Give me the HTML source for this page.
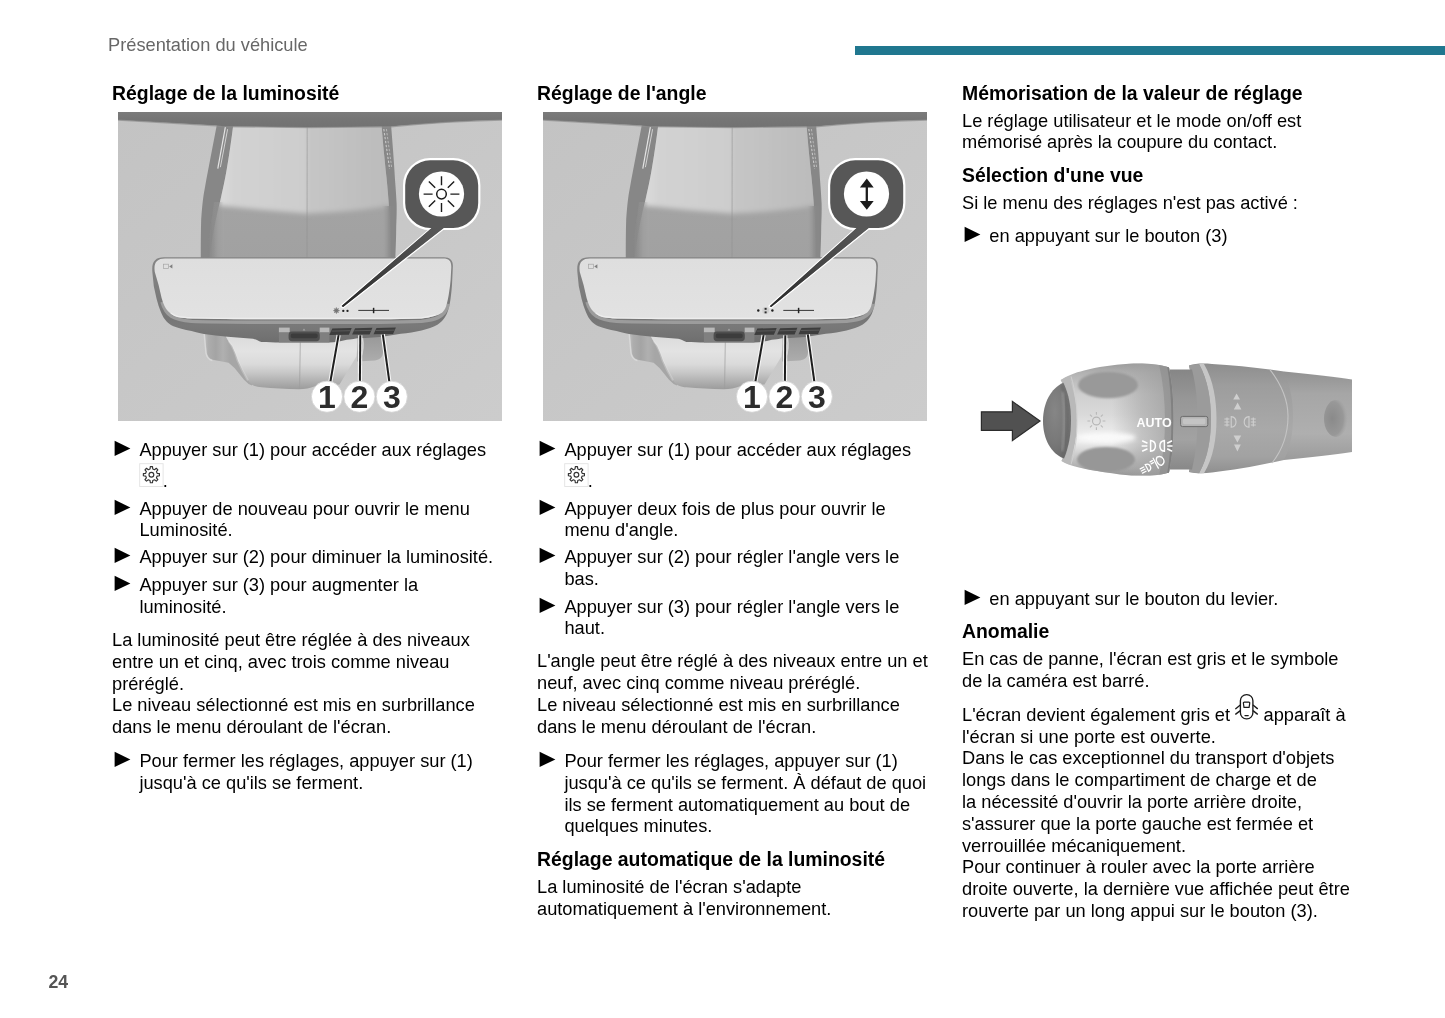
<!DOCTYPE html>
<html lang="fr"><head><meta charset="utf-8"><title>Présentation du véhicule</title>
<style>
html,body{margin:0;padding:0;background:#fff}
body{width:1445px;height:1018px;position:relative;overflow:hidden;font-family:"Liberation Sans",sans-serif;color:#000}
.l{position:absolute;white-space:nowrap;line-height:22px;font-size:18.24px}
.h{font-weight:bold;font-size:19.4px}
.hd{color:#676767}
.pn{font-weight:bold;color:#555;font-size:17.7px}
.ov{position:absolute;left:0;top:0}
.txt{position:absolute;left:0;top:0;width:1445px;height:1018px;opacity:0.999}
.bar{position:absolute;left:855px;top:45.5px;width:590px;height:9px;background:#20778f}
svg{display:block}
</style></head>
<body>
<div class="bar"></div>
<svg class="ov" style="left:118px;top:112.3px" width="384" height="309" viewBox="0 0 384 309">
<defs>
<linearGradient id="bga" x1="0" y1="0" x2="1" y2="1"><stop offset="0" stop-color="#c3c3c3"/><stop offset="1" stop-color="#cccccc"/></linearGradient>
<linearGradient id="upa" gradientUnits="userSpaceOnUse" x1="104" y1="0" x2="272" y2="0"><stop offset="0" stop-color="#dadada"/><stop offset="0.07" stop-color="#d2d2d2"/><stop offset="0.5" stop-color="#cdcdcd"/><stop offset="0.51" stop-color="#c6c6c6"/><stop offset="1" stop-color="#bbbbbb"/></linearGradient>
<linearGradient id="loa" x1="0" y1="0" x2="0" y2="1"><stop offset="0" stop-color="#a6a6a6"/><stop offset="1" stop-color="#a1a1a1"/></linearGradient>
<linearGradient id="lga" gradientUnits="userSpaceOnUse" x1="90" y1="0" x2="106" y2="0"><stop offset="0" stop-color="#878787" stop-opacity="1"/><stop offset="0.3" stop-color="#8c8c8c" stop-opacity="0.8"/><stop offset="1" stop-color="#a5a5a5" stop-opacity="0"/></linearGradient>
<linearGradient id="lsa" x1="0" y1="0" x2="1" y2="0"><stop offset="0" stop-color="#8f8f8f"/><stop offset="0.6" stop-color="#8a8a8a"/><stop offset="1" stop-color="#9c9c9c"/></linearGradient>
<linearGradient id="hsa" gradientUnits="userSpaceOnUse" x1="0" y1="145" x2="0" y2="231"><stop offset="0" stop-color="#858585"/><stop offset="0.72" stop-color="#767676"/><stop offset="0.8" stop-color="#797979"/><stop offset="1" stop-color="#6e6e6e"/></linearGradient>
<linearGradient id="fca" x1="0" y1="0" x2="0" y2="1"><stop offset="0" stop-color="#dedede"/><stop offset="1" stop-color="#e2e2e2"/></linearGradient>
<linearGradient id="lma" gradientUnits="userSpaceOnUse" x1="0" y1="226" x2="0" y2="278"><stop offset="0" stop-color="#dcdcdc"/><stop offset="0.25" stop-color="#e3e3e3"/><stop offset="0.5" stop-color="#dadada"/><stop offset="0.66" stop-color="#c8c8c8"/><stop offset="0.85" stop-color="#aeaeae"/><stop offset="1" stop-color="#9a9a9a"/></linearGradient>
<linearGradient id="pga" gradientUnits="userSpaceOnUse" x1="320" y1="117" x2="225" y2="195"><stop offset="0" stop-color="#575757"/><stop offset="0.45" stop-color="#474747"/><stop offset="1" stop-color="#262626"/></linearGradient>
<linearGradient id="wga" gradientUnits="userSpaceOnUse" x1="106" y1="0" x2="122" y2="0"><stop offset="0" stop-color="#dadada" stop-opacity="0.9"/><stop offset="1" stop-color="#d4d4d4" stop-opacity="0"/></linearGradient>
<linearGradient id="wla" gradientUnits="userSpaceOnUse" x1="87" y1="0" x2="127" y2="0"><stop offset="0" stop-color="#bcbcbc"/><stop offset="0.08" stop-color="#adadad"/><stop offset="0.27" stop-color="#a4a4a4"/><stop offset="0.45" stop-color="#b0b0b0"/><stop offset="0.62" stop-color="#a6a6a6"/><stop offset="1" stop-color="#a6a6a6"/></linearGradient>
<linearGradient id="wra" gradientUnits="userSpaceOnUse" x1="0" y1="222" x2="0" y2="250"><stop offset="0" stop-color="#979797"/><stop offset="0.5" stop-color="#a2a2a2"/><stop offset="1" stop-color="#adadad"/></linearGradient>
<linearGradient id="tba" gradientUnits="userSpaceOnUse" x1="0" y1="0" x2="0" y2="15"><stop offset="0" stop-color="#7b7b7b"/><stop offset="0.4" stop-color="#767676"/><stop offset="1" stop-color="#727272"/></linearGradient>
<clipPath id="sca"><path d="M99 12 L93.6 40 L88.3 67.7 C87.4 73 86.4 78.5 85.6 83 C84.6 90 83.8 98 83.2 107 C82.8 120 82.7 135 82.8 150 L277.2 150 C277.6 138 278.2 126 278.2 114.8 C278.6 106 278.8 98 278.6 91.3 C278.2 83 277.6 75 277 67.7 C276 49 274.4 30 273 12 Z"/></clipPath>
<clipPath id="bca"><path d="M115.4 12 C113.4 28 111.2 43 108.7 57.5 C107 68 104.6 78 102.4 88 C98 105 93.5 128 91 150 L273.4 150 C273.2 128 272.4 108 270.6 90 C269.8 78 268.8 68 267.6 57.5 C266 42 264.6 27 263.4 12 Z"/></clipPath>
<filter id="b3a" x="-10%" y="-10%" width="120%" height="120%"><feGaussianBlur stdDeviation="2.4"/></filter>
<linearGradient id="rga" gradientUnits="userSpaceOnUse" x1="273.5" y1="0" x2="264" y2="0"><stop offset="0" stop-color="#888" stop-opacity="1"/><stop offset="0.3" stop-color="#8c8c8c" stop-opacity="0.75"/><stop offset="1" stop-color="#a0a0a0" stop-opacity="0"/></linearGradient>
<clipPath id="cpa"><rect width="384" height="309"/></clipPath>
<filter id="bla" x="-10%" y="-10%" width="120%" height="120%"><feGaussianBlur stdDeviation="1.6"/></filter>
<filter id="b2a" x="-10%" y="-30%" width="120%" height="160%"><feGaussianBlur stdDeviation="0.7"/></filter>
</defs>
<g clip-path="url(#cpa)">
<rect width="384" height="309" fill="url(#bga)"/>
<path d="M99 12 L93.6 40 L88.3 67.7 C87.4 73 86.4 78.5 85.6 83 C84.6 90 83.8 98 83.2 107 C82.8 120 82.7 135 82.8 150 L277.2 150 C277.6 138 278.2 126 278.2 114.8 C278.6 106 278.8 98 278.6 91.3 C278.2 83 277.6 75 277 67.7 C276 49 274.4 30 273 12 Z" fill="#878787"/>
<g clip-path="url(#bca)">
<rect x="80" y="10" width="200" height="142" fill="url(#loa)"/>
<path d="M100 0 L100 93.5 C130 96.5 160 99.5 189 101.5 C215 100.5 245 98.5 272 93.5 L290 93.5 L290 0 Z" fill="url(#upa)" filter="url(#b3a)"/>
</g>
<g clip-path="url(#sca)">
<path d="M96 90 C93 110 90 130 88 152 L112 152 L112 90 Z" fill="url(#lga)" filter="url(#b2a)"/>
<path d="M262 94 L276 94 L276 152 L262 152 Z" fill="url(#rga)" filter="url(#b2a)"/>
</g>
<path d="M189.2 14 L189 150" stroke="#8f8f8f" stroke-width="0.7" fill="none" opacity="0.8"/>
<path d="M107.4 14.8 L99.8 56.7" stroke="#e4e4e4" stroke-width="1.2" fill="none"/>
<path d="M109.6 17.2 L102.4 55.2" stroke="#d2d2d2" stroke-width="1.0" fill="none"/>
<path d="M265.8 17 L271.6 57" stroke="#d4d4d4" stroke-width="1.1" stroke-dasharray="2.4 1.6" fill="none" opacity="0.85"/>
<path d="M268.4 17 L273.6 55" stroke="#c8c8c8" stroke-width="0.9" stroke-dasharray="2.4 1.6" fill="none" opacity="0.8"/>
<path d="M0 0 H384 V8 C350 8.8 310 11 273 14.6 L189 15.4 L104 14.4 L98 13.6 L0 7.9 Z" fill="url(#tba)"/>
<path d="M0 8.1 L98 13.8 L104 14.6 L189 15.6 L273 14.8 C310 11.2 350 9 384 8.2" fill="none" stroke="#909090" stroke-width="1.2" opacity="0.7" filter="url(#b2a)"/>
<path d="M87 216 L87 222.4 L88.8 240.7 C89.5 244.5 91.5 246.8 94.7 247.8 L110.6 250.7 L116.5 256 L126 267.7 L130.6 272 L134 273.6 L140 216 Z" fill="url(#wla)"/>
<path d="M86.2 222 L87.9 240.8 C88.6 245 90.8 247.6 94.4 248.7" fill="none" stroke="#dcdcdc" stroke-width="1.3" opacity="0.85" filter="url(#b2a)"/>
<path d="M240 218 L265 218 L265 240.5 C264.8 245 262 247.8 257 248.4 C251 248.9 245 249 239 249.4 Z" fill="url(#wra)"/>
<path d="M244.4 226 C245.8 232 245 240 242 247" fill="none" stroke="#d8d8d8" stroke-width="1.6" opacity="0.8" filter="url(#b2a)"/>
<path d="M106 216 L108.3 225.4 C110 229 112.4 231.6 114.2 234.2 C116.6 239 118.4 244 120.1 249 C123 255.5 126.2 261.6 129.5 267.7 C131.2 270.4 133 272.2 135.4 273.4 C138 274.5 140.6 275 143.4 275.3 C155 276.3 168 277 180.8 277.2 C187 277.2 192 276 197 274.2 C206 273.6 214 273 221.5 272.4 L238.4 244.4 C239.4 238 239.4 232 239.2 226 L239 218 Z" fill="url(#lma)"/>
<path d="M110.6 229 C114.6 234 117 240 119.4 248 C122.6 255.6 126 262 130 268.4" fill="none" stroke="#ebebeb" stroke-width="2" opacity="0.3" filter="url(#b2a)"/>
<path d="M182.3 229 L181.6 277" stroke="#9c9c9c" stroke-width="0.7" fill="none"/>
<path d="M46 145.3 L326 145.3 C332 145.3 335 148.4 334.9 154 L334 172.7 C333.6 178 333.2 182 332.6 186.5 C332 190.5 331.4 194 330.5 196.9 C329.5 200.5 328.2 203.4 326.4 205.9 C324.5 208.6 322.2 210.8 319.4 212.8 C315 215.4 309.5 217 303.5 218.4 C297 219.8 290 220.9 282.8 221.8 L268.9 223.9 C260 225.3 250 226 239.2 226.3 C236 227 232 227.6 228.8 227.8 C223 229.4 217 230.3 211 230.5 L168.4 230.5 C160 230.6 151 230.5 143.4 230.1 C140 228.6 138 227.4 135.1 226.8 C118 225.6 101 224.2 86 222 C81 221.2 77 220.2 73.5 219.1 C66 217.6 60 216 55.5 214.2 C52.5 212.8 50.3 211.2 48.6 209.4 C46 206.6 44.4 203.6 43.1 200.4 C41.2 196 39.8 191.4 38.5 186.5 L35.8 174.2 L34.4 160.4 C33.4 150 37 145.3 46 145.3 Z" fill="url(#hsa)"/>
<path d="M44 190 C46 197 49 201.5 53.5 204.4 C58 207.2 64 208.6 73.5 209.4 C90 210 110 210.1 132 210.2 L262 210.2 C280 210.1 292 209.9 303.5 209.4 C311 208.4 316 207.4 320 205.6 C325.5 203 328.6 199 330.6 192" fill="none" stroke="#a6a6a6" stroke-width="3.4" opacity="0.8" filter="url(#b2a)"/>
<path d="M47 146.4 L325 146.4 C331 146.4 333.4 149 333.3 155 L332.6 168 C332.2 172 331.8 176 331.2 179.6 C330.4 185 329.6 189.5 328.4 193.5 C327.4 196.6 326.2 198.8 324.3 200.4 C322.4 202 320 203 317.4 203.8 C313 205 308.5 206 303.5 206.6 C290 207.1 275 207.3 262 207.3 L132 207.3 C120 207.2 110 207.1 101.2 207 C91 206.9 82 206.8 73.5 206.6 C68 206.3 63.5 205.9 59.7 205.2 C57 204.5 54.8 203.4 52.8 201.8 C50 199.6 48 197 46.5 194 C45.4 191.5 44.4 189 43.6 186 L40.6 173 L36.8 160 C35.4 151 38.5 146.4 47 146.4 Z" fill="url(#fca)"/>
<path d="M52.8 201 C54.8 202.6 57 203.7 59.7 204.4 C63.5 205.1 68 205.5 73.5 205.8 C91 206.2 110 206.4 132 206.5 L262 206.5 C275 206.5 290 206.3 303.5 205.8 C308.5 205.2 313 204.2 317.4 203" fill="none" stroke="#efefef" stroke-width="1.3" opacity="0.9" filter="url(#b2a)"/>
<rect x="45.6" y="152.2" width="5" height="4.3" fill="none" stroke="#a4a4a4" stroke-width="0.7"/>
<path d="M51.2 154.4 L54.4 152.2 V156.6 Z" fill="#808080"/>
<rect x="160.9" y="215.6" width="10.8" height="5" fill="#b9b9b9"/>
<rect x="201.7" y="215.6" width="9.7" height="5" fill="#b9b9b9"/>
<rect x="160.9" y="220.4" width="50.5" height="10" fill="#808080"/>
<rect x="170.6" y="219.6" width="31.2" height="9.6" rx="3.4" fill="#4e4e4e"/>
<rect x="172.6" y="221.6" width="27.2" height="4.6" rx="2.3" fill="#3c3c3c"/>
<path d="M184.6 218.6 L186 216.6 L187.4 218.6 Z" fill="#a4a4a4"/>
<path d="M214.3 216.5 L233.7 216.1 L230.9 222.7 L211.3 222.9 Z" fill="#3d3d3d"/>
<path d="M213.5 219.1 L232.5 218.7" stroke="#5e5e5e" stroke-width="0.9"/>
<path d="M237.1 216.2 L254.39999999999998 215.79999999999998 L251.6 222.39999999999998 L234.1 222.6 Z" fill="#3d3d3d"/>
<path d="M236.29999999999998 218.79999999999998 L253.2 218.39999999999998" stroke="#5e5e5e" stroke-width="0.9"/>
<path d="M258.5 215.9 L277.9 215.5 L275.09999999999997 222.1 L255.50000000000003 222.3 Z" fill="#3d3d3d"/>
<path d="M257.70000000000005 218.5 L276.7 218.1" stroke="#5e5e5e" stroke-width="0.9"/>
<circle cx="218.4" cy="198.6" r="2.4" fill="#8a8a8a"/>
<g stroke="#6f6f6f" stroke-width="0.6"><path d="M215 198.6H221.8M218.4 195.2V202M216 196.2L220.8 201M216 201L220.8 196.2"/></g>
<circle cx="225.3" cy="198.9" r="1.15" fill="#222"/><circle cx="229.5" cy="198.9" r="1.15" fill="#222"/>
<path d="M240.3 198.4 H271" stroke="#222" stroke-width="0.9"/><path d="M255.6 195.8 V201.2" stroke="#222" stroke-width="1.5"/>
<path d="M220.6 223.2 L212.3 270" stroke="#f6f6f6" stroke-width="4.2" fill="none"/>
<path d="M220.6 223.2 L212.3 270" stroke="#1e1e1e" stroke-width="2.0" fill="none"/>
<path d="M242.3 223.2 L241.9 270" stroke="#f6f6f6" stroke-width="4.2" fill="none"/>
<path d="M242.3 223.2 L241.9 270" stroke="#1e1e1e" stroke-width="2.0" fill="none"/>
<path d="M264.8 222.4 L271.4 270" stroke="#f6f6f6" stroke-width="4.2" fill="none"/>
<path d="M264.8 222.4 L271.4 270" stroke="#1e1e1e" stroke-width="2.0" fill="none"/>
<circle cx="209.0" cy="284.7" r="15.6" fill="#fff" stroke="#d0d0d0" stroke-width="0.8"/>
<text x="209.0" y="296.0" text-anchor="middle" font-family="Liberation Sans, sans-serif" font-weight="bold" font-size="32" fill="#2b2b2b" opacity="0.99">1</text>
<circle cx="241.4" cy="284.7" r="15.6" fill="#fff" stroke="#d0d0d0" stroke-width="0.8"/>
<text x="241.4" y="296.0" text-anchor="middle" font-family="Liberation Sans, sans-serif" font-weight="bold" font-size="32" fill="#2b2b2b" opacity="0.99">2</text>
<circle cx="273.8" cy="284.7" r="15.6" fill="#fff" stroke="#d0d0d0" stroke-width="0.8"/>
<text x="273.8" y="296.0" text-anchor="middle" font-family="Liberation Sans, sans-serif" font-weight="bold" font-size="32" fill="#2b2b2b" opacity="0.99">3</text>
<path d="M312.2 48.3 H335.2 A25 25 0 0 1 360.2 73.3 V90.9 A25 25 0 0 1 335.2 115.9 H325.8 L225.10000000000002 195.0 L223.60000000000002 194.1 L314.1 115.9 H312.2 A25 25 0 0 1 287.2 90.9 V73.3 A25 25 0 0 1 312.2 48.3 Z" fill="#575757" stroke="#fff" stroke-width="2.6" stroke-linejoin="round"/>
<rect x="287.2" y="48.3" width="73.0" height="67.60000000000001" rx="25" ry="25" fill="#575757" stroke="#fff" stroke-width="4.4"/>
<path d="M312.2 48.3 H335.2 A25 25 0 0 1 360.2 73.3 V90.9 A25 25 0 0 1 335.2 115.9 H325.8 L225.10000000000002 195.0 L223.60000000000002 194.1 L314.1 115.9 H312.2 A25 25 0 0 1 287.2 90.9 V73.3 A25 25 0 0 1 312.2 48.3 Z" fill="#575757"/>
<path d="M325.8 115.4 L225.10000000000002 195.0 L223.60000000000002 194.1 L314.1 115.4 Z" fill="url(#pga)"/>
<circle cx="323.5" cy="82.0" r="22.6" fill="#fff"/>
<circle cx="323.5" cy="82.1" r="4.8" fill="none" stroke="#1c1c1c" stroke-width="1.5"/>
<path d="M332.40 82.10L341.40 82.10M329.79 88.39L336.16 94.76M323.50 91.00L323.50 100.00M317.21 88.39L310.84 94.76M314.60 82.10L305.60 82.10M317.21 75.81L310.84 69.44M323.50 73.20L323.50 64.20M329.79 75.81L336.16 69.44" stroke="#1c1c1c" stroke-width="1.4" fill="none"/>
</g></svg>
<svg class="ov" style="left:543px;top:112.3px" width="384" height="309" viewBox="0 0 384 309">
<defs>
<linearGradient id="bgb" x1="0" y1="0" x2="1" y2="1"><stop offset="0" stop-color="#c3c3c3"/><stop offset="1" stop-color="#cccccc"/></linearGradient>
<linearGradient id="upb" gradientUnits="userSpaceOnUse" x1="104" y1="0" x2="272" y2="0"><stop offset="0" stop-color="#dadada"/><stop offset="0.07" stop-color="#d2d2d2"/><stop offset="0.5" stop-color="#cdcdcd"/><stop offset="0.51" stop-color="#c6c6c6"/><stop offset="1" stop-color="#bbbbbb"/></linearGradient>
<linearGradient id="lob" x1="0" y1="0" x2="0" y2="1"><stop offset="0" stop-color="#a6a6a6"/><stop offset="1" stop-color="#a1a1a1"/></linearGradient>
<linearGradient id="lgb" gradientUnits="userSpaceOnUse" x1="90" y1="0" x2="106" y2="0"><stop offset="0" stop-color="#878787" stop-opacity="1"/><stop offset="0.3" stop-color="#8c8c8c" stop-opacity="0.8"/><stop offset="1" stop-color="#a5a5a5" stop-opacity="0"/></linearGradient>
<linearGradient id="lsb" x1="0" y1="0" x2="1" y2="0"><stop offset="0" stop-color="#8f8f8f"/><stop offset="0.6" stop-color="#8a8a8a"/><stop offset="1" stop-color="#9c9c9c"/></linearGradient>
<linearGradient id="hsb" gradientUnits="userSpaceOnUse" x1="0" y1="145" x2="0" y2="231"><stop offset="0" stop-color="#858585"/><stop offset="0.72" stop-color="#767676"/><stop offset="0.8" stop-color="#797979"/><stop offset="1" stop-color="#6e6e6e"/></linearGradient>
<linearGradient id="fcb" x1="0" y1="0" x2="0" y2="1"><stop offset="0" stop-color="#dedede"/><stop offset="1" stop-color="#e2e2e2"/></linearGradient>
<linearGradient id="lmb" gradientUnits="userSpaceOnUse" x1="0" y1="226" x2="0" y2="278"><stop offset="0" stop-color="#dcdcdc"/><stop offset="0.25" stop-color="#e3e3e3"/><stop offset="0.5" stop-color="#dadada"/><stop offset="0.66" stop-color="#c8c8c8"/><stop offset="0.85" stop-color="#aeaeae"/><stop offset="1" stop-color="#9a9a9a"/></linearGradient>
<linearGradient id="pgb" gradientUnits="userSpaceOnUse" x1="320" y1="117" x2="225" y2="195"><stop offset="0" stop-color="#575757"/><stop offset="0.45" stop-color="#474747"/><stop offset="1" stop-color="#262626"/></linearGradient>
<linearGradient id="wgb" gradientUnits="userSpaceOnUse" x1="106" y1="0" x2="122" y2="0"><stop offset="0" stop-color="#dadada" stop-opacity="0.9"/><stop offset="1" stop-color="#d4d4d4" stop-opacity="0"/></linearGradient>
<linearGradient id="wlb" gradientUnits="userSpaceOnUse" x1="87" y1="0" x2="127" y2="0"><stop offset="0" stop-color="#bcbcbc"/><stop offset="0.08" stop-color="#adadad"/><stop offset="0.27" stop-color="#a4a4a4"/><stop offset="0.45" stop-color="#b0b0b0"/><stop offset="0.62" stop-color="#a6a6a6"/><stop offset="1" stop-color="#a6a6a6"/></linearGradient>
<linearGradient id="wrb" gradientUnits="userSpaceOnUse" x1="0" y1="222" x2="0" y2="250"><stop offset="0" stop-color="#979797"/><stop offset="0.5" stop-color="#a2a2a2"/><stop offset="1" stop-color="#adadad"/></linearGradient>
<linearGradient id="tbb" gradientUnits="userSpaceOnUse" x1="0" y1="0" x2="0" y2="15"><stop offset="0" stop-color="#7b7b7b"/><stop offset="0.4" stop-color="#767676"/><stop offset="1" stop-color="#727272"/></linearGradient>
<clipPath id="scb"><path d="M99 12 L93.6 40 L88.3 67.7 C87.4 73 86.4 78.5 85.6 83 C84.6 90 83.8 98 83.2 107 C82.8 120 82.7 135 82.8 150 L277.2 150 C277.6 138 278.2 126 278.2 114.8 C278.6 106 278.8 98 278.6 91.3 C278.2 83 277.6 75 277 67.7 C276 49 274.4 30 273 12 Z"/></clipPath>
<clipPath id="bcb"><path d="M115.4 12 C113.4 28 111.2 43 108.7 57.5 C107 68 104.6 78 102.4 88 C98 105 93.5 128 91 150 L273.4 150 C273.2 128 272.4 108 270.6 90 C269.8 78 268.8 68 267.6 57.5 C266 42 264.6 27 263.4 12 Z"/></clipPath>
<filter id="b3b" x="-10%" y="-10%" width="120%" height="120%"><feGaussianBlur stdDeviation="2.4"/></filter>
<linearGradient id="rgb" gradientUnits="userSpaceOnUse" x1="273.5" y1="0" x2="264" y2="0"><stop offset="0" stop-color="#888" stop-opacity="1"/><stop offset="0.3" stop-color="#8c8c8c" stop-opacity="0.75"/><stop offset="1" stop-color="#a0a0a0" stop-opacity="0"/></linearGradient>
<clipPath id="cpb"><rect width="384" height="309"/></clipPath>
<filter id="blb" x="-10%" y="-10%" width="120%" height="120%"><feGaussianBlur stdDeviation="1.6"/></filter>
<filter id="b2b" x="-10%" y="-30%" width="120%" height="160%"><feGaussianBlur stdDeviation="0.7"/></filter>
</defs>
<g clip-path="url(#cpb)">
<rect width="384" height="309" fill="url(#bgb)"/>
<path d="M99 12 L93.6 40 L88.3 67.7 C87.4 73 86.4 78.5 85.6 83 C84.6 90 83.8 98 83.2 107 C82.8 120 82.7 135 82.8 150 L277.2 150 C277.6 138 278.2 126 278.2 114.8 C278.6 106 278.8 98 278.6 91.3 C278.2 83 277.6 75 277 67.7 C276 49 274.4 30 273 12 Z" fill="#878787"/>
<g clip-path="url(#bcb)">
<rect x="80" y="10" width="200" height="142" fill="url(#lob)"/>
<path d="M100 0 L100 93.5 C130 96.5 160 99.5 189 101.5 C215 100.5 245 98.5 272 93.5 L290 93.5 L290 0 Z" fill="url(#upb)" filter="url(#b3b)"/>
</g>
<g clip-path="url(#scb)">
<path d="M96 90 C93 110 90 130 88 152 L112 152 L112 90 Z" fill="url(#lgb)" filter="url(#b2b)"/>
<path d="M262 94 L276 94 L276 152 L262 152 Z" fill="url(#rgb)" filter="url(#b2b)"/>
</g>
<path d="M189.2 14 L189 150" stroke="#8f8f8f" stroke-width="0.7" fill="none" opacity="0.8"/>
<path d="M107.4 14.8 L99.8 56.7" stroke="#e4e4e4" stroke-width="1.2" fill="none"/>
<path d="M109.6 17.2 L102.4 55.2" stroke="#d2d2d2" stroke-width="1.0" fill="none"/>
<path d="M265.8 17 L271.6 57" stroke="#d4d4d4" stroke-width="1.1" stroke-dasharray="2.4 1.6" fill="none" opacity="0.85"/>
<path d="M268.4 17 L273.6 55" stroke="#c8c8c8" stroke-width="0.9" stroke-dasharray="2.4 1.6" fill="none" opacity="0.8"/>
<path d="M0 0 H384 V8 C350 8.8 310 11 273 14.6 L189 15.4 L104 14.4 L98 13.6 L0 7.9 Z" fill="url(#tbb)"/>
<path d="M0 8.1 L98 13.8 L104 14.6 L189 15.6 L273 14.8 C310 11.2 350 9 384 8.2" fill="none" stroke="#909090" stroke-width="1.2" opacity="0.7" filter="url(#b2b)"/>
<path d="M87 216 L87 222.4 L88.8 240.7 C89.5 244.5 91.5 246.8 94.7 247.8 L110.6 250.7 L116.5 256 L126 267.7 L130.6 272 L134 273.6 L140 216 Z" fill="url(#wlb)"/>
<path d="M86.2 222 L87.9 240.8 C88.6 245 90.8 247.6 94.4 248.7" fill="none" stroke="#dcdcdc" stroke-width="1.3" opacity="0.85" filter="url(#b2b)"/>
<path d="M240 218 L265 218 L265 240.5 C264.8 245 262 247.8 257 248.4 C251 248.9 245 249 239 249.4 Z" fill="url(#wrb)"/>
<path d="M244.4 226 C245.8 232 245 240 242 247" fill="none" stroke="#d8d8d8" stroke-width="1.6" opacity="0.8" filter="url(#b2b)"/>
<path d="M106 216 L108.3 225.4 C110 229 112.4 231.6 114.2 234.2 C116.6 239 118.4 244 120.1 249 C123 255.5 126.2 261.6 129.5 267.7 C131.2 270.4 133 272.2 135.4 273.4 C138 274.5 140.6 275 143.4 275.3 C155 276.3 168 277 180.8 277.2 C187 277.2 192 276 197 274.2 C206 273.6 214 273 221.5 272.4 L238.4 244.4 C239.4 238 239.4 232 239.2 226 L239 218 Z" fill="url(#lmb)"/>
<path d="M110.6 229 C114.6 234 117 240 119.4 248 C122.6 255.6 126 262 130 268.4" fill="none" stroke="#ebebeb" stroke-width="2" opacity="0.3" filter="url(#b2b)"/>
<path d="M182.3 229 L181.6 277" stroke="#9c9c9c" stroke-width="0.7" fill="none"/>
<path d="M46 145.3 L326 145.3 C332 145.3 335 148.4 334.9 154 L334 172.7 C333.6 178 333.2 182 332.6 186.5 C332 190.5 331.4 194 330.5 196.9 C329.5 200.5 328.2 203.4 326.4 205.9 C324.5 208.6 322.2 210.8 319.4 212.8 C315 215.4 309.5 217 303.5 218.4 C297 219.8 290 220.9 282.8 221.8 L268.9 223.9 C260 225.3 250 226 239.2 226.3 C236 227 232 227.6 228.8 227.8 C223 229.4 217 230.3 211 230.5 L168.4 230.5 C160 230.6 151 230.5 143.4 230.1 C140 228.6 138 227.4 135.1 226.8 C118 225.6 101 224.2 86 222 C81 221.2 77 220.2 73.5 219.1 C66 217.6 60 216 55.5 214.2 C52.5 212.8 50.3 211.2 48.6 209.4 C46 206.6 44.4 203.6 43.1 200.4 C41.2 196 39.8 191.4 38.5 186.5 L35.8 174.2 L34.4 160.4 C33.4 150 37 145.3 46 145.3 Z" fill="url(#hsb)"/>
<path d="M44 190 C46 197 49 201.5 53.5 204.4 C58 207.2 64 208.6 73.5 209.4 C90 210 110 210.1 132 210.2 L262 210.2 C280 210.1 292 209.9 303.5 209.4 C311 208.4 316 207.4 320 205.6 C325.5 203 328.6 199 330.6 192" fill="none" stroke="#a6a6a6" stroke-width="3.4" opacity="0.8" filter="url(#b2b)"/>
<path d="M47 146.4 L325 146.4 C331 146.4 333.4 149 333.3 155 L332.6 168 C332.2 172 331.8 176 331.2 179.6 C330.4 185 329.6 189.5 328.4 193.5 C327.4 196.6 326.2 198.8 324.3 200.4 C322.4 202 320 203 317.4 203.8 C313 205 308.5 206 303.5 206.6 C290 207.1 275 207.3 262 207.3 L132 207.3 C120 207.2 110 207.1 101.2 207 C91 206.9 82 206.8 73.5 206.6 C68 206.3 63.5 205.9 59.7 205.2 C57 204.5 54.8 203.4 52.8 201.8 C50 199.6 48 197 46.5 194 C45.4 191.5 44.4 189 43.6 186 L40.6 173 L36.8 160 C35.4 151 38.5 146.4 47 146.4 Z" fill="url(#fcb)"/>
<path d="M52.8 201 C54.8 202.6 57 203.7 59.7 204.4 C63.5 205.1 68 205.5 73.5 205.8 C91 206.2 110 206.4 132 206.5 L262 206.5 C275 206.5 290 206.3 303.5 205.8 C308.5 205.2 313 204.2 317.4 203" fill="none" stroke="#efefef" stroke-width="1.3" opacity="0.9" filter="url(#b2b)"/>
<rect x="45.6" y="152.2" width="5" height="4.3" fill="none" stroke="#a4a4a4" stroke-width="0.7"/>
<path d="M51.2 154.4 L54.4 152.2 V156.6 Z" fill="#808080"/>
<rect x="160.9" y="215.6" width="10.8" height="5" fill="#b9b9b9"/>
<rect x="201.7" y="215.6" width="9.7" height="5" fill="#b9b9b9"/>
<rect x="160.9" y="220.4" width="50.5" height="10" fill="#808080"/>
<rect x="170.6" y="219.6" width="31.2" height="9.6" rx="3.4" fill="#4e4e4e"/>
<rect x="172.6" y="221.6" width="27.2" height="4.6" rx="2.3" fill="#3c3c3c"/>
<path d="M184.6 218.6 L186 216.6 L187.4 218.6 Z" fill="#a4a4a4"/>
<path d="M214.3 216.5 L233.7 216.1 L230.9 222.7 L211.3 222.9 Z" fill="#3d3d3d"/>
<path d="M213.5 219.1 L232.5 218.7" stroke="#5e5e5e" stroke-width="0.9"/>
<path d="M237.1 216.2 L254.39999999999998 215.79999999999998 L251.6 222.39999999999998 L234.1 222.6 Z" fill="#3d3d3d"/>
<path d="M236.29999999999998 218.79999999999998 L253.2 218.39999999999998" stroke="#5e5e5e" stroke-width="0.9"/>
<path d="M258.5 215.9 L277.9 215.5 L275.09999999999997 222.1 L255.50000000000003 222.3 Z" fill="#3d3d3d"/>
<path d="M257.70000000000005 218.5 L276.7 218.1" stroke="#5e5e5e" stroke-width="0.9"/>
<circle cx="215.3" cy="198.5" r="1.2" fill="#1e1e1e"/><circle cx="229.4" cy="198.5" r="1.2" fill="#1e1e1e"/>
<circle cx="222.6" cy="198.5" r="3.4" fill="#cfcfcf"/>
<rect x="221.6" y="195.9" width="2" height="1.9" fill="#2a2a2a"/><rect x="221.6" y="199.4" width="2" height="1.9" fill="#2a2a2a"/>
<path d="M240.3 198.4 H271" stroke="#222" stroke-width="0.9"/><path d="M255.6 195.8 V201.2" stroke="#222" stroke-width="1.5"/>
<path d="M220.6 223.2 L212.3 270" stroke="#f6f6f6" stroke-width="4.2" fill="none"/>
<path d="M220.6 223.2 L212.3 270" stroke="#1e1e1e" stroke-width="2.0" fill="none"/>
<path d="M242.3 223.2 L241.9 270" stroke="#f6f6f6" stroke-width="4.2" fill="none"/>
<path d="M242.3 223.2 L241.9 270" stroke="#1e1e1e" stroke-width="2.0" fill="none"/>
<path d="M264.8 222.4 L271.4 270" stroke="#f6f6f6" stroke-width="4.2" fill="none"/>
<path d="M264.8 222.4 L271.4 270" stroke="#1e1e1e" stroke-width="2.0" fill="none"/>
<circle cx="209.0" cy="284.7" r="15.6" fill="#fff" stroke="#d0d0d0" stroke-width="0.8"/>
<text x="209.0" y="296.0" text-anchor="middle" font-family="Liberation Sans, sans-serif" font-weight="bold" font-size="32" fill="#2b2b2b" opacity="0.99">1</text>
<circle cx="241.4" cy="284.7" r="15.6" fill="#fff" stroke="#d0d0d0" stroke-width="0.8"/>
<text x="241.4" y="296.0" text-anchor="middle" font-family="Liberation Sans, sans-serif" font-weight="bold" font-size="32" fill="#2b2b2b" opacity="0.99">2</text>
<circle cx="273.8" cy="284.7" r="15.6" fill="#fff" stroke="#d0d0d0" stroke-width="0.8"/>
<text x="273.8" y="296.0" text-anchor="middle" font-family="Liberation Sans, sans-serif" font-weight="bold" font-size="32" fill="#2b2b2b" opacity="0.99">3</text>
<path d="M312.2 48.3 H335.2 A25 25 0 0 1 360.2 73.3 V90.9 A25 25 0 0 1 335.2 115.9 H325.8 L228.20000000000002 195.1 L226.70000000000002 194.2 L314.1 115.9 H312.2 A25 25 0 0 1 287.2 90.9 V73.3 A25 25 0 0 1 312.2 48.3 Z" fill="#575757" stroke="#fff" stroke-width="2.6" stroke-linejoin="round"/>
<rect x="287.2" y="48.3" width="73.0" height="67.60000000000001" rx="25" ry="25" fill="#575757" stroke="#fff" stroke-width="4.4"/>
<path d="M312.2 48.3 H335.2 A25 25 0 0 1 360.2 73.3 V90.9 A25 25 0 0 1 335.2 115.9 H325.8 L228.20000000000002 195.1 L226.70000000000002 194.2 L314.1 115.9 H312.2 A25 25 0 0 1 287.2 90.9 V73.3 A25 25 0 0 1 312.2 48.3 Z" fill="#575757"/>
<path d="M325.8 115.4 L228.20000000000002 195.1 L226.70000000000002 194.2 L314.1 115.4 Z" fill="url(#pgb)"/>
<circle cx="323.5" cy="82.0" r="22.6" fill="#fff"/>
<path d="M323.8 71 V94" stroke="#1c1c1c" stroke-width="2.3"/>
<path d="M323.8 66.4 L330.7 75.5 H316.9 Z M323.8 97.8 L330.7 88.9 H316.9 Z" fill="#1c1c1c"/>
</g></svg>
<svg class="ov" style="left:970px;top:350px" width="400" height="140" viewBox="970 350 400 140">
<defs>
<linearGradient id="lvK" x1="0" y1="0" x2="0" y2="1"><stop offset="0" stop-color="#9c9c9c"/><stop offset="0.08" stop-color="#b2b2b2"/><stop offset="0.28" stop-color="#d0d0d0"/><stop offset="0.45" stop-color="#d9d9d9"/><stop offset="0.6" stop-color="#e9e9e9"/><stop offset="0.7" stop-color="#ededed"/><stop offset="0.8" stop-color="#d0d0d0"/><stop offset="0.92" stop-color="#b0b0b0"/><stop offset="1" stop-color="#949494"/></linearGradient>
<linearGradient id="lvKr" gradientUnits="userSpaceOnUse" x1="1112" y1="0" x2="1172" y2="0"><stop offset="0" stop-color="#a0a0a0" stop-opacity="0"/><stop offset="0.5" stop-color="#a2a2a2" stop-opacity="0.55"/><stop offset="1" stop-color="#9a9a9a" stop-opacity="0.8"/></linearGradient>
<linearGradient id="lvB" x1="0" y1="0" x2="0" y2="1"><stop offset="0" stop-color="#8e8e8e"/><stop offset="0.2" stop-color="#9d9d9d"/><stop offset="0.6" stop-color="#a9a9a9"/><stop offset="0.85" stop-color="#a2a2a2"/><stop offset="1" stop-color="#8f8f8f"/></linearGradient>
<linearGradient id="lvN" x1="0" y1="0" x2="0" y2="1"><stop offset="0" stop-color="#868686"/><stop offset="0.3" stop-color="#979797"/><stop offset="0.7" stop-color="#a2a2a2"/><stop offset="1" stop-color="#888"/></linearGradient>
<linearGradient id="lvS" x1="0" y1="0" x2="0" y2="1"><stop offset="0" stop-color="#929292"/><stop offset="0.25" stop-color="#a6a6a6"/><stop offset="0.7" stop-color="#afafaf"/><stop offset="1" stop-color="#9b9b9b"/></linearGradient>
<radialGradient id="lvD" cx="0.42" cy="0.38" r="0.7"><stop offset="0" stop-color="#868686"/><stop offset="0.6" stop-color="#787878"/><stop offset="1" stop-color="#686868"/></radialGradient>
<linearGradient id="lvKx" x1="0" y1="0" x2="1" y2="0"><stop offset="0" stop-color="#9a9a9a" stop-opacity="0.55"/><stop offset="0.3" stop-color="#9a9a9a" stop-opacity="0"/><stop offset="1" stop-color="#9a9a9a" stop-opacity="0"/></linearGradient>
<radialGradient id="lvP" cx="0.35" cy="0.5" r="0.65"><stop offset="0" stop-color="#8a8a8a"/><stop offset="0.7" stop-color="#989898"/><stop offset="1" stop-color="#a6a6a6" stop-opacity="0"/></radialGradient>
<filter id="lvF0" x="-50%" y="-10%" width="200%" height="120%"><feGaussianBlur stdDeviation="0.5"/></filter>
<filter id="lvF" x="-20%" y="-20%" width="140%" height="140%"><feGaussianBlur stdDeviation="1.2"/></filter>
<filter id="lvF2" x="-20%" y="-20%" width="140%" height="140%"><feGaussianBlur stdDeviation="2.2"/></filter>
<clipPath id="lvKc"><path d="M1060.6 380 C1066 376 1075 372.6 1084 370.4 C1098 367 1112 365 1129 363.8 C1145 363 1160 364.5 1169 367.6 C1172.5 385 1173.5 400 1173.5 420 C1173.5 440 1172.5 456 1169 472.4 C1158 476 1140 476.4 1120 474.4 C1098 471.6 1080 468.5 1070 465 C1066 463.6 1063.5 462.4 1061.4 461 C1067.5 448 1070.5 435 1070.5 420.5 C1070.5 406 1067.5 392 1060.6 380 Z"/></clipPath>
</defs>
<path d="M981.4 411.8 H1012.4 V401.4 L1040 421 L1012.4 440.6 V430.3 H981.4 Z" fill="#515151" stroke="#2c2c2c" stroke-width="1.2" stroke-linejoin="miter"/>
<path d="M1284 371.5 C1310 374 1335 377 1352 379.4 L1352 452 C1335 454.6 1310 457.6 1284 460 Z" fill="url(#lvS)"/>
<ellipse cx="1336" cy="418.5" rx="12" ry="18.5" fill="url(#lvP)"/>
<path d="M1189 365.4 C1196 363.2 1204 363.4 1212 364 C1235 365.4 1262 368 1284 371.5 C1291 388 1293 402 1293 416 C1293 432 1291 446 1284 460 C1262 465 1235 470 1212 472.6 C1204 473.4 1196 473.6 1189 472 C1193 455 1194.5 438 1194.5 419 C1194.5 400 1193 382 1189 365.4 Z" fill="url(#lvB)"/>
<path d="M1270 369.6 C1284 388 1288 402 1288 416 C1288 432 1284 448 1272 463" fill="none" stroke="#c4c4c4" stroke-width="1.1"/>
<path d="M1199 364 C1208 380 1211 400 1211 419 C1211 438 1208 458 1199 473.2 L1204 473.2 C1213.5 458 1216.5 438 1216.5 419 C1216.5 400 1213.5 380 1204 364 Z" fill="#c6c6c6"/>
<path d="M1189 365.4 C1193 382 1194.5 400 1194.5 419 C1194.5 438 1193 455 1189 472 L1199 473.2 C1208 458 1211 438 1211 419 C1211 400 1208 380 1199 364 Z" fill="#9b9b9b"/>
<path d="M1170 369.4 H1192 C1196 385 1197.5 402 1197.5 419 C1197.5 436 1196 453 1192 469.6 H1170 Z" fill="url(#lvN)"/>
<path d="M1060.6 380 C1066 376 1075 372.6 1084 370.4 C1098 367 1112 365 1129 363.8 C1145 363 1160 364.5 1169 367.6 C1172.5 385 1173.5 400 1173.5 420 C1173.5 440 1172.5 456 1169 472.4 C1158 476 1140 476.4 1120 474.4 C1098 471.6 1080 468.5 1070 465 C1066 463.6 1063.5 462.4 1061.4 461 C1067.5 448 1070.5 435 1070.5 420.5 C1070.5 406 1067.5 392 1060.6 380 Z" fill="url(#lvK)"/>
<g clip-path="url(#lvKc)">
<rect x="1110" y="360" width="66" height="120" fill="url(#lvKr)"/>
<path d="M1158 360 H1176 V480 H1158 C1163 460 1165 440 1165 420 C1165 400 1163 380 1158 360 Z" fill="#8b8b8b" opacity="0.55"/>
<path d="M1166 360 H1176 V480 H1166 C1170 460 1171.4 440 1171.4 420 C1171.4 400 1170 380 1166 360 Z" fill="#777" opacity="0.7"/>
<ellipse cx="1108" cy="385" rx="30" ry="13.2" fill="#999" filter="url(#lvF)"/>
<ellipse cx="1106" cy="459.5" rx="29" ry="12.6" fill="#979797" filter="url(#lvF)"/>
<ellipse cx="1106" cy="437.5" rx="30" ry="5.2" fill="#fafafa" opacity="0.95" filter="url(#lvF2)"/>
<path d="M1060.6 380 C1067.5 392 1070.5 406 1070.5 420.5 C1070.5 435 1067.5 448 1061.4 461 L1069 464.6 C1074.5 450 1077 436 1077 420.5 C1077 405 1074.5 391 1068.4 376.2 Z" fill="#b9b9b9"/>
<path d="M1071 376.4 C1075.5 391 1077 405 1077 420.5 C1077 436 1075.5 450 1071 464.4" fill="none" stroke="#cfcfcf" stroke-width="1"/>
</g>
<path d="M1063.4 382.8 C1051 388 1043 403 1043 421 C1043 439 1051 453.6 1064 458.6 C1069 446 1071 434 1071 420.5 C1071 407 1069 394.6 1063.4 382.8 Z" fill="url(#lvD)"/>
<path d="M1061.5 385 C1066 396 1067.6 408 1067.6 420.5 C1067.6 433 1066 445 1062 456.6" fill="none" stroke="#666" stroke-width="2.4" opacity="0.7" filter="url(#lvF)"/>
<path d="M1062.6 392 C1064 402 1064.4 412 1064.3 422 C1064.2 432 1063.6 442 1062.2 451" fill="none" stroke="#a0a0a0" stroke-width="2.2" opacity="0.6" filter="url(#lvF)"/>
<rect x="1180.6" y="416.4" width="27.2" height="10.2" rx="2" fill="#b4b4b4" stroke="#6d6d6d" stroke-width="1"/>
<rect x="1183" y="418.6" width="22.4" height="5.6" rx="1.4" fill="#c4c4c4"/>
<text x="1136.6" y="427.3" font-family="Liberation Sans, sans-serif" font-weight="bold" font-size="12.4" fill="#fff" opacity="0.99" textLength="35" lengthAdjust="spacingAndGlyphs">AUTO</text>
<circle cx="1096.4" cy="421.0" r="3.9" fill="none" stroke="#b4b4b4" stroke-width="1.1"/>
<path d="M1102.6 421.0L1105.4 421.0M1100.8 425.4L1102.8 427.4M1096.4 427.2L1096.4 430.0M1092.0 425.4L1090.0 427.4M1090.2 421.0L1087.4 421.0M1092.0 416.6L1090.0 414.6M1096.4 414.8L1096.4 412.0M1100.8 416.6L1102.8 414.6" stroke="#b8b8b8" stroke-width="1.1" fill="none"/>
<g fill="none" stroke="#fff" stroke-width="1.5" stroke-linecap="round">
<path d="M1150.6 440.6 C1157 441.4 1157 450.4 1150.6 451.2 Z"/>
<path d="M1164.4 440.6 C1158.4 441.4 1158.4 450.4 1164.4 451.2 Z"/>
<path d="M1142.6 441 L1147 443 M1142.2 446 H1146.8 M1142.6 451 L1147 449"/>
<path d="M1171.6 441 L1167.6 443 M1172 446 H1167.8 M1171.6 451 L1167.6 449"/>
</g>
<g fill="none" stroke="#fff" stroke-width="1.3" stroke-linecap="round" transform="rotate(-28 1154 465)">
<path d="M1160.4 459.4 C1166.6 460 1166.6 468.2 1160.4 468.8 C1157.4 467 1157.4 461 1160.4 459.4 Z"/>
<path d="M1156.4 458.6 V469.8"/>
<path d="M1146.4 460.6 C1151.4 461 1151.4 467.4 1146.4 468 Z"/>
<path d="M1140 462 H1144 M1140 464.4 H1144 M1140 466.8 H1144 M1152 460.4 H1154.6 M1152 462.6 H1154.6"/>
</g>
<g fill="#cfcfcf">
<path d="M1236.6 393.6 L1240 399.4 H1233.2 Z M1237.6 402.4 L1241.4 409.4 H1233.8 Z"/>
<path d="M1233.6 435.4 H1241.2 L1237.4 442.4 Z M1234 444.6 H1240.8 L1237.4 451.4 Z"/>
</g>
<g fill="none" stroke="#cfcfcf" stroke-width="1.1">
<path d="M1231.2 416.6 C1237.6 417.4 1237.6 426.4 1231.2 427.2 Z"/>
<path d="M1249 416.6 C1242.6 417.4 1242.6 426.4 1249 427.2 Z"/>
<path d="M1224.4 419 H1229.4 M1224.4 422 H1229.4 M1224.4 425 H1229.4 M1227 417.4 V426.6"/>
<path d="M1250.8 419 H1255.8 M1250.8 422 H1255.8 M1250.8 425 H1255.8 M1253.3 417.4 V426.6"/>
</g>
</svg>
<svg class="ov" width="1445" height="1018" viewBox="0 0 1445 1018">
<rect x="139.70000000000002" y="463.7" width="23.4" height="22.8" fill="#fff" stroke="#e2e2e2" stroke-width="0.9"/>
<path d="M150.02 468.96L150.32 466.67L152.48 466.67L152.78 468.96L154.48 469.67L156.31 468.26L157.84 469.79L156.43 471.62L157.14 473.32L159.43 473.62L159.43 475.78L157.14 476.08L156.43 477.78L157.84 479.61L156.31 481.14L154.48 479.73L152.78 480.44L152.48 482.73L150.32 482.73L150.02 480.44L148.32 479.73L146.49 481.14L144.96 479.61L146.37 477.78L145.66 476.08L143.37 475.78L143.37 473.62L145.66 473.32L146.37 471.62L144.96 469.79L146.49 468.26L148.32 469.67Z" fill="none" stroke="#333" stroke-width="1.15" stroke-linejoin="round"/>
<circle cx="151.4" cy="474.7" r="2.4" fill="none" stroke="#333" stroke-width="1.15"/>
<rect x="564.6999999999999" y="463.7" width="23.4" height="22.8" fill="#fff" stroke="#e2e2e2" stroke-width="0.9"/>
<path d="M575.02 468.96L575.32 466.67L577.48 466.67L577.78 468.96L579.48 469.67L581.31 468.26L582.84 469.79L581.43 471.62L582.14 473.32L584.43 473.62L584.43 475.78L582.14 476.08L581.43 477.78L582.84 479.61L581.31 481.14L579.48 479.73L577.78 480.44L577.48 482.73L575.32 482.73L575.02 480.44L573.32 479.73L571.49 481.14L569.96 479.61L571.37 477.78L570.66 476.08L568.37 475.78L568.37 473.62L570.66 473.32L571.37 471.62L569.96 469.79L571.49 468.26L573.32 469.67Z" fill="none" stroke="#333" stroke-width="1.15" stroke-linejoin="round"/>
<circle cx="576.4" cy="474.7" r="2.4" fill="none" stroke="#333" stroke-width="1.15"/>
<g fill="none" stroke="#1a1a1a" stroke-width="1.35" stroke-linecap="round" stroke-linejoin="round">
<rect x="1240.4" y="694.6" width="12.5" height="24.3" rx="6.1" ry="6.1"/>
<path d="M1244.4 702.2 H1248.8 Q1249.9 702.2 1249.7 703.3 L1249.1 707.3 H1244 L1243.4 703.3 Q1243.2 702.2 1244.4 702.2 Z" stroke-width="1.2"/>
<path d="M1245 715.6 H1248.2"/>
<path d="M1240 705.3 L1235.7 708.7 M1240 710.9 L1235.7 714.1 M1253.3 705.3 L1257.4 708.6 M1253.3 710.9 L1257.4 714.1"/>
</g>
</svg>
<div class="txt">
<div class="l hd" style="left:108.0px;top:34.00px">Présentation du véhicule</div>
<div class="l pn" style="left:48.4px;top:971.00px">24</div>
<div class="l h" style="left:112.0px;top:82.00px">Réglage de la luminosité</div>
<div class="l b" style="left:139.4px;top:439.00px">Appuyer sur (1) pour accéder aux réglages</div>
<div class="l b" style="left:162.7px;top:470.00px">.</div>
<div class="l b" style="left:139.4px;top:498.00px">Appuyer de nouveau pour ouvrir le menu</div>
<div class="l b" style="left:139.4px;top:519.00px">Luminosité.</div>
<div class="l b" style="left:139.4px;top:546.00px">Appuyer sur (2) pour diminuer la luminosité.</div>
<div class="l b" style="left:139.4px;top:574.00px">Appuyer sur (3) pour augmenter la</div>
<div class="l b" style="left:139.4px;top:596.00px">luminosité.</div>
<div class="l b" style="left:112.0px;top:629.00px">La luminosité peut être réglée à des niveaux</div>
<div class="l b" style="left:112.0px;top:651.00px">entre un et cinq, avec trois comme niveau</div>
<div class="l b" style="left:112.0px;top:673.00px">préréglé.</div>
<div class="l b" style="left:112.0px;top:694.00px">Le niveau sélectionné est mis en surbrillance</div>
<div class="l b" style="left:112.0px;top:716.00px">dans le menu déroulant de l'écran.</div>
<div class="l b" style="left:139.4px;top:750.00px">Pour fermer les réglages, appuyer sur (1)</div>
<div class="l b" style="left:139.4px;top:772.00px">jusqu'à ce qu'ils se ferment.</div>
<div class="l h" style="left:537.0px;top:82.00px">Réglage de l'angle</div>
<div class="l b" style="left:564.4px;top:439.00px">Appuyer sur (1) pour accéder aux réglages</div>
<div class="l b" style="left:587.7px;top:470.00px">.</div>
<div class="l b" style="left:564.4px;top:498.00px">Appuyer deux fois de plus pour ouvrir le</div>
<div class="l b" style="left:564.4px;top:519.00px">menu d'angle.</div>
<div class="l b" style="left:564.4px;top:546.00px">Appuyer sur (2) pour régler l'angle vers le</div>
<div class="l b" style="left:564.4px;top:568.00px">bas.</div>
<div class="l b" style="left:564.4px;top:596.00px">Appuyer sur (3) pour régler l'angle vers le</div>
<div class="l b" style="left:564.4px;top:617.00px">haut.</div>
<div class="l b" style="left:537.0px;top:650.00px">L'angle peut être réglé à des niveaux entre un et</div>
<div class="l b" style="left:537.0px;top:672.00px">neuf, avec cinq comme niveau préréglé.</div>
<div class="l b" style="left:537.0px;top:694.00px">Le niveau sélectionné est mis en surbrillance</div>
<div class="l b" style="left:537.0px;top:716.00px">dans le menu déroulant de l'écran.</div>
<div class="l b" style="left:564.4px;top:750.00px">Pour fermer les réglages, appuyer sur (1)</div>
<div class="l b" style="left:564.4px;top:772.00px">jusqu'à ce qu'ils se ferment. À défaut de quoi</div>
<div class="l b" style="left:564.4px;top:794.00px">ils se ferment automatiquement au bout de</div>
<div class="l b" style="left:564.4px;top:815.00px">quelques minutes.</div>
<div class="l h" style="left:537.0px;top:848.00px">Réglage automatique de la luminosité</div>
<div class="l b" style="left:537.0px;top:876.00px">La luminosité de l'écran s'adapte</div>
<div class="l b" style="left:537.0px;top:898.00px">automatiquement à l'environnement.</div>
<div class="l h" style="left:962.0px;top:82.00px">Mémorisation de la valeur de réglage</div>
<div class="l b" style="left:962.0px;top:110.00px">Le réglage utilisateur et le mode on/off est</div>
<div class="l b" style="left:962.0px;top:131.00px">mémorisé après la coupure du contact.</div>
<div class="l h" style="left:962.0px;top:164.00px">Sélection d'une vue</div>
<div class="l b" style="left:962.0px;top:192.00px">Si le menu des réglages n'est pas activé :</div>
<div class="l b" style="left:989.3px;top:225.00px">en appuyant sur le bouton (3)</div>
<div class="l b" style="left:989.3px;top:588.00px">en appuyant sur le bouton du levier.</div>
<div class="l h" style="left:962.0px;top:620.00px">Anomalie</div>
<div class="l b" style="left:962.0px;top:648.00px">En cas de panne, l'écran est gris et le symbole</div>
<div class="l b" style="left:962.0px;top:670.00px">de la caméra est barré.</div>
<div class="l b" style="left:962.0px;top:704.00px">L'écran devient également gris et</div>
<div class="l b" style="left:1263.5px;top:704.00px">apparaît à</div>
<div class="l b" style="left:962.0px;top:726.00px">l'écran si une porte est ouverte.</div>
<div class="l b" style="left:962.0px;top:747.00px">Dans le cas exceptionnel du transport d'objets</div>
<div class="l b" style="left:962.0px;top:769.00px">longs dans le compartiment de charge et de</div>
<div class="l b" style="left:962.0px;top:791.00px">la nécessité d'ouvrir la porte arrière droite,</div>
<div class="l b" style="left:962.0px;top:813.00px">s'assurer que la porte gauche est fermée et</div>
<div class="l b" style="left:962.0px;top:835.00px">verrouillée mécaniquement.</div>
<div class="l b" style="left:962.0px;top:856.00px">Pour continuer à rouler avec la porte arrière</div>
<div class="l b" style="left:962.0px;top:878.00px">droite ouverte, la dernière vue affichée peut être</div>
<div class="l b" style="left:962.0px;top:900.00px">rouverte par un long appui sur le bouton (3).</div>
<svg class="ov" width="1445" height="1018" viewBox="0 0 1445 1018"><g fill="#000"><path d="M114.6 440.8L130.4 448.4L114.6 456.0Z"/><path d="M114.6 499.8L130.4 507.4L114.6 515.0Z"/><path d="M114.6 547.8L130.4 555.4L114.6 563.0Z"/><path d="M114.6 575.8L130.4 583.4L114.6 591.0Z"/><path d="M114.6 751.8L130.4 759.4L114.6 767.0Z"/><path d="M539.6 440.8L555.4 448.4L539.6 456.0Z"/><path d="M539.6 499.8L555.4 507.4L539.6 515.0Z"/><path d="M539.6 547.8L555.4 555.4L539.6 563.0Z"/><path d="M539.6 597.8L555.4 605.4L539.6 613.0Z"/><path d="M539.6 751.8L555.4 759.4L539.6 767.0Z"/><path d="M964.6 226.8L980.4 234.4L964.6 242.0Z"/><path d="M964.6 589.8L980.4 597.4L964.6 605.0Z"/></g></svg>
</div>
</body></html>
